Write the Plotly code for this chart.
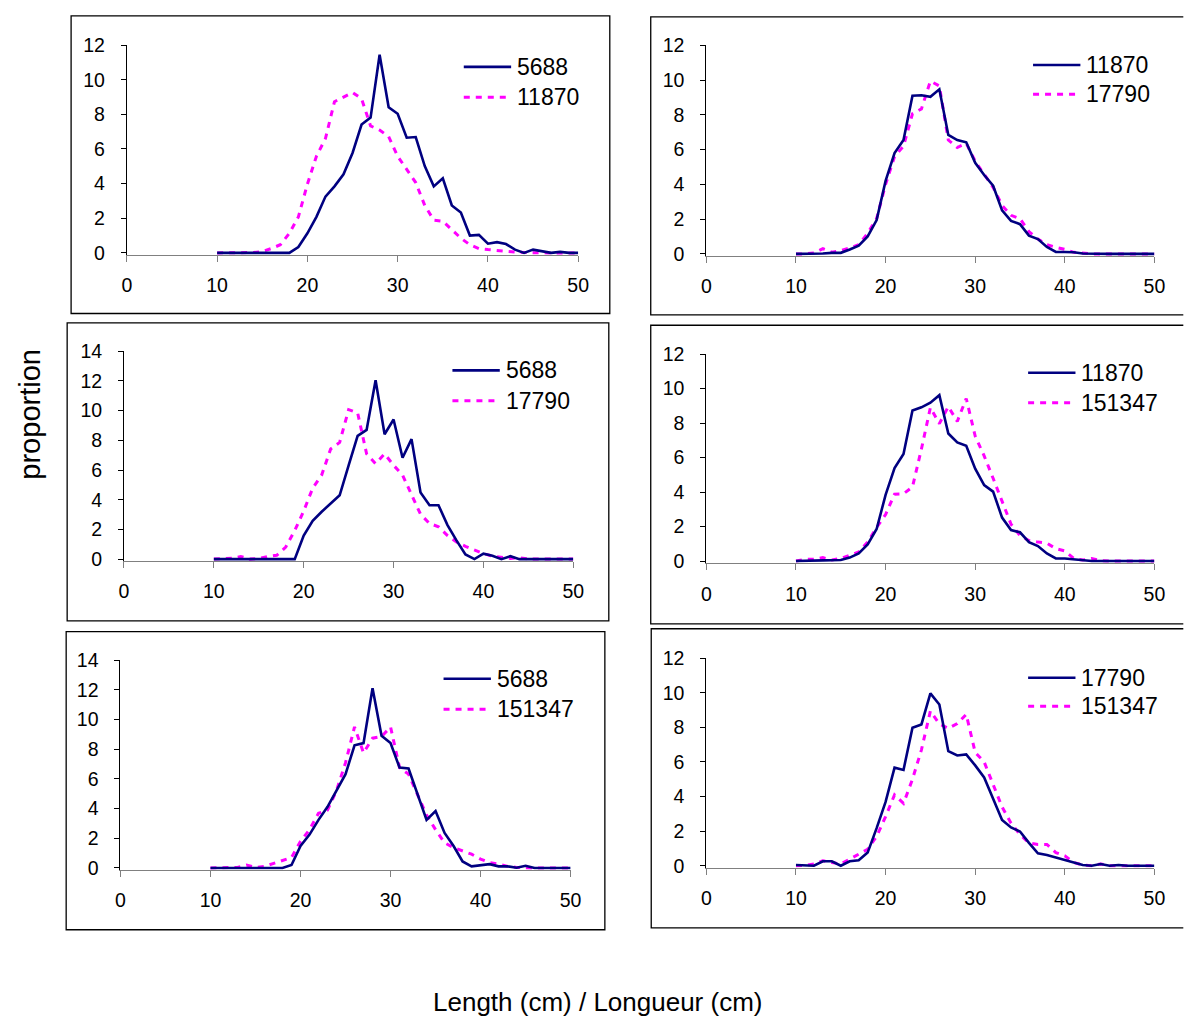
import plotly.graph_objects as go

# ---------------- data ----------------
lengths = list(range(10, 51))  # length classes (cm)

# Panel 1 (top-left): 5688 vs 11870
p1_5688 = [0, 0, 0, 0, 0, 0, 0, 0, 0, 0.34, 1.13, 2.08, 3.25, 3.84, 4.54, 5.77, 7.41, 7.81, 11.44, 8.41,
           8.03, 6.65, 6.69, 5.01, 3.84, 4.31, 2.74, 2.33, 1.0, 1.04, 0.53, 0.62, 0.51, 0.19, 0, 0.19,
           0.11, 0, 0.06, 0, 0]
p1_11870 = [0, 0, 0, 0, 0.02, 0.08, 0.25, 0.47, 1.13, 2.08, 3.97, 5.58, 6.6, 8.73, 8.98, 9.26, 8.9, 7.33,
            7.09, 6.71, 5.58, 4.82, 4.06, 2.74, 1.89, 1.83, 1.32, 0.85, 0.47, 0.25, 0.19, 0.13, 0.09,
            0.05, 0.02, 0, 0, 0, 0, 0, 0]

# Panel 2 (top-right): 11870 vs 17790
p2_11870 = [0, 0, 0, 0.02, 0.06, 0.06, 0.25, 0.47, 1.0, 1.94, 4.2, 5.8, 6.55, 9.1, 9.13, 9.04, 9.47, 6.84,
            6.55, 6.42, 5.24, 4.54, 3.92, 2.5, 1.9, 1.71, 1.05, 0.85, 0.4, 0.11, 0.11, 0.09, 0.02,
            0, 0, 0, 0, 0, 0, 0, 0]
p2_17790 = [0, 0, 0.05, 0.3, 0.1, 0.19, 0.34, 0.53, 1.19, 2.03, 4.0, 5.6, 6.2, 8.06, 8.34, 9.94, 9.66, 6.55,
            6.12, 6.36, 5.33, 4.58, 3.83, 2.79, 2.22, 2.03, 1.28, 0.85, 0.53, 0.38, 0.26, 0.09, 0.04,
            0, 0, 0, 0, 0, 0, 0, 0]

# Panel 3 (middle-left): 5688 vs 17790
p3_5688 = [0, 0, 0, 0, 0, 0, 0, 0, 0, 0, 1.59, 2.58, 3.19, 3.72, 4.3, 6.32, 8.3, 8.7, 12.05, 8.41, 9.4,
           6.83, 8.08, 4.49, 3.63, 3.63, 2.29, 1.26, 0.31, 0, 0.37, 0.22, 0, 0.2, 0, 0, 0, 0, 0, 0, 0]
p3_17790 = [0, 0, 0.05, 0.18, 0, 0.04, 0.18, 0.26, 0.81, 1.92, 3.24, 4.78, 5.66, 7.42, 7.86, 10.07, 9.85,
            7.09, 6.43, 7.09, 6.32, 5.66, 4.34, 3.02, 2.4, 2.18, 1.59, 1.15, 0.86, 0.59, 0.37, 0.2,
            0.11, 0.04, 0.1, 0, 0, 0, 0, 0, 0]

# Panel 4 (middle-right): 11870 vs 151347
p4_11870 = [0, 0, 0, 0.04, 0.05, 0.06, 0.2, 0.44, 0.97, 1.86, 3.84, 5.4, 6.21, 8.73, 8.92, 9.19, 9.62,
            7.4, 6.88, 6.69, 5.36, 4.41, 4.03, 2.52, 1.8, 1.67, 1.1, 0.87, 0.44, 0.15, 0.15, 0.09,
            0.02, 0, 0, 0, 0, 0, 0, 0, 0]
p4_151347 = [0, 0.1, 0.1, 0.2, 0.06, 0.15, 0.34, 0.53, 1.1, 1.95, 2.7, 3.88, 3.9, 4.3, 6.5, 8.9, 7.97,
             8.96, 8.1, 9.43, 7.25, 6.1, 4.8, 3.47, 2.14, 1.48, 1.19, 1.1, 1.04, 0.72, 0.59, 0.15,
             0.06, 0.15, 0.02, 0, 0, 0, 0, 0, 0]

# Panel 5 (bottom-left): 5688 vs 151347
p5_5688 = [0, 0, 0, 0, 0, 0, 0, 0, 0, 0.2, 1.48, 2.25, 3.24, 4.12, 5.22, 6.32, 8.26, 8.41, 12.11, 8.9,
           8.41, 6.76, 6.7, 5.04, 3.24, 3.83, 2.36, 1.48, 0.44, 0.11, 0.2, 0.26, 0.11, 0.11, 0.02,
           0.15, 0, 0, 0, 0, 0]
p5_151347 = [0, 0, 0.02, 0.04, 0.2, 0.04, 0.11, 0.31, 0.48, 0.7, 1.8, 2.58, 3.68, 3.9, 5.22, 7.09, 9.5,
             7.75, 8.74, 8.85, 9.5, 6.76, 6.32, 5.0, 3.57, 2.58, 1.7, 1.37, 1.15, 0.93, 0.6, 0.37,
             0.26, 0.11, 0.04, 0, 0, 0, 0, 0, 0]

# Panel 6 (bottom-right): 17790 vs 151347
p6_17790 = [0.04, 0.04, 0, 0.26, 0.26, 0, 0.26, 0.32, 0.76, 2.17, 3.69, 5.67, 5.54, 7.98, 8.17, 9.96,
            9.32, 6.62, 6.37, 6.43, 5.8, 5.1, 3.9, 2.65, 2.21, 1.98, 1.32, 0.72, 0.62, 0.47, 0.32,
            0.19, 0.04, 0, 0.1, 0, 0.04, 0, 0, 0, 0]
p6_151347 = [0, 0.02, 0.1, 0.28, 0.19, 0.1, 0.38, 0.66, 0.95, 1.7, 2.84, 4.1, 3.6, 5.0, 6.7, 8.94, 8.2,
             7.94, 8.22, 8.75, 6.55, 6.0, 4.7, 3.4, 2.46, 1.8, 1.32, 1.23, 1.23, 0.76, 0.57, 0.19,
             0.04, 0, 0.1, 0, 0, 0, 0, 0, 0]

x_ticks = [0, 10, 20, 30, 40, 50]
x_title = "Length (cm) / Longueur (cm)"
y_title = "proportion"

# ---------------- layout helpers ----------------
W, H = 1195, 1027
NAVY = "#000080"
MAGENTA = "#FF00FF"
FONT = "Liberation Sans, Arial, sans-serif"
TICK_SIZE = 19.5
LEG_SIZE = 23

# box: (left, top, right, bottom, right_edge_visible)
panels = [
    dict(solid=("5688", p1_5688), dotted=("11870", p1_11870), ymax=12,
         x0=123.5, x50=581, y0=246.7, ytop=34.7, box=(67, 5, 613, 308.5, True), leg=(465, 57, 88)),
    dict(solid=("11870", p2_11870), dotted=("17790", p2_17790), ymax=12,
         x0=710.9, x50=1165, y0=247.7, ytop=35, box=(654.5, 6, 1195, 310, False), leg=(1042, 55, 85)),
    dict(solid=("5688", p3_5688), dotted=("17790", p3_17790), ymax=14,
         x0=120.6, x50=576, y0=559, ytop=347, box=(63, 318, 612, 622, True), leg=(453.5, 366.5, 397.5)),
    dict(solid=("11870", p4_11870), dotted=("151347", p4_151347), ymax=12,
         x0=710.9, x50=1165, y0=561, ytop=350, box=(654.5, 320.5, 1195, 625, False), leg=(1037, 369, 399.5)),
    dict(solid=("5688", p5_5688), dotted=("151347", p5_151347), ymax=14,
         x0=117, x50=573.3, y0=874, ytop=662, box=(62, 633, 608, 937, True), leg=(444.5, 681, 712)),
    dict(solid=("17790", p6_17790), dotted=("151347", p6_151347), ymax=12,
         x0=710.9, x50=1165, y0=871.7, ytop=660, box=(655, 630, 1195, 935, False), leg=(1037, 680, 709)),
]

def px_x(v):
    return v / W

def px_y(v):
    return 1 - v / H

fig = go.Figure()
shapes = []
annotations = []
layout = dict(
    width=W, height=H, margin=dict(l=0, r=0, t=0, b=0),
    paper_bgcolor="white", plot_bgcolor="rgba(0,0,0,0)",
    showlegend=False, font=dict(family=FONT, color="black"),
)

YPAD = 0.12
DASH = "6px,6px"

for i, p in enumerate(panels):
    n = "" if i == 0 else str(i + 1)
    xref, yref = "x" + n, "y" + n
    scale = (p["y0"] - p["ytop"]) / p["ymax"]
    bottom_px = p["y0"] + YPAD * scale

    layout["xaxis" + n] = dict(
        domain=[px_x(p["x0"]), px_x(p["x50"])], range=[0, 50], anchor=yref,
        tickvals=x_ticks, showline=True, linecolor="#808080", linewidth=1,
        ticks="outside", ticklen=6, tickcolor="#808080", tickwidth=1,
        showgrid=False, zeroline=False, layer="below traces",
        tickfont=dict(size=TICK_SIZE, family=FONT, color="black"), ticklabelstandoff=7,
        fixedrange=True,
    )
    layout["yaxis" + n] = dict(
        domain=[px_y(bottom_px), px_y(p["ytop"])], range=[-YPAD, p["ymax"]], anchor=xref,
        tickvals=list(range(0, p["ymax"] + 1, 2)), showline=True, linecolor="black", linewidth=1,
        ticks="outside", ticklen=5, tickcolor="black", tickwidth=1,
        showgrid=False, zeroline=False, layer="below traces",
        tickfont=dict(size=TICK_SIZE, family=FONT, color="black"), ticklabelstandoff=12,
        fixedrange=True,
    )

    fig.add_trace(go.Scatter(x=lengths, y=p["dotted"][1], mode="lines", name=p["dotted"][0],
                             line=dict(color=MAGENTA, width=3, dash=DASH),
                             xaxis=xref, yaxis=yref))
    fig.add_trace(go.Scatter(x=lengths, y=p["solid"][1], mode="lines", name=p["solid"][0],
                             line=dict(color=NAVY, width=2.6),
                             xaxis=xref, yaxis=yref))

    # outer chart border (kept inside the page; right-column boxes run off the page edge)
    bx0, by0, bx1, by1, right_edge = p["box"]
    if right_edge:
        shapes.append(dict(type="rect", xref="paper", yref="paper",
                           x0=px_x(bx0), x1=px_x(bx1), y0=px_y(by1), y1=px_y(by0),
                           line=dict(color="black", width=1.3), fillcolor="rgba(0,0,0,0)"))
    else:
        xe = px_x(bx1 - 0.7)
        path = "M {a},{t} L {l},{t} L {l},{b} L {a},{b}".format(
            a=xe, l=px_x(bx0), t=px_y(by0), b=px_y(by1))
        shapes.append(dict(type="path", xref="paper", yref="paper", path=path,
                           line=dict(color="black", width=1.3)))

    # per-chart legend
    lx, ly1, ly2 = p["leg"]
    for (label, _), ly, style in ((p["solid"], ly1, "solid"), (p["dotted"], ly2, "dot")):
        line = dict(color=NAVY, width=2.6) if style == "solid" else dict(color=MAGENTA, width=3, dash=DASH)
        shapes.append(dict(type="line", xref="paper", yref="paper",
                           x0=px_x(lx), x1=px_x(lx + 48), y0=px_y(ly), y1=px_y(ly), line=line))
        annotations.append(dict(text=label, xref="paper", yref="paper", x=px_x(lx + 52), y=px_y(ly),
                                xanchor="left", yanchor="middle", showarrow=False,
                                font=dict(size=LEG_SIZE, family=FONT, color="black")))

annotations.append(dict(text=x_title, xref="paper", yref="paper", x=px_x(601), y=px_y(1011),
                        xanchor="center", yanchor="middle", showarrow=False,
                        font=dict(size=26, family=FONT, color="black")))
annotations.append(dict(text=y_title, xref="paper", yref="paper", x=px_x(25), y=px_y(411),
                        xanchor="center", yanchor="middle", showarrow=False, textangle=-90,
                        font=dict(size=29, family=FONT, color="black")))

layout["shapes"] = shapes
layout["annotations"] = annotations
fig.update_layout(**layout)
fig.write_html("out.html")
